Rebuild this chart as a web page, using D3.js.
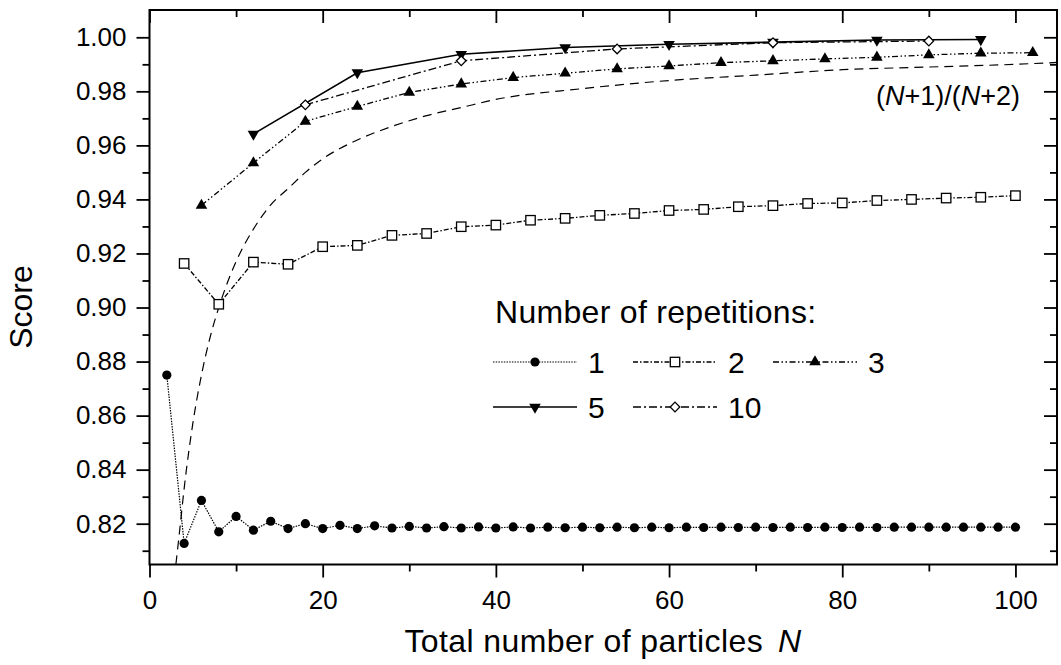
<!DOCTYPE html>
<html>
<head>
<meta charset="utf-8">
<script src="https://cdn.jsdelivr.net/npm/d3@7"></script>
<style>
  html, body { margin: 0; padding: 0; background: #fff; }
  svg { display: block; font-family: "Liberation Sans", Arial, Helvetica, sans-serif; }
</style>
</head>
<body>
<svg id="chart" width="1061" height="665"></svg>
<script>
// ---------------- data ----------------
const n1 = [2,4,6,8,10,12,14,16,18,20,22,24,26,28,30,32,34,36,38,40,42,44,46,48,50,
            52,54,56,58,60,62,64,66,68,70,72,74,76,78,80,82,84,86,88,90,92,94,96,98,100];
const rep1 = [0.8750,0.8127,0.8286,0.8170,0.8227,0.8176,0.8209,0.8182,0.8200,0.8182,
              0.8194,0.8182,0.8192,0.8184,0.8190,0.8184,0.8189,0.8184,0.8188,0.8184,
              0.8188,0.8184,0.8187,0.8185,0.8187,0.8185,0.8187,0.8185,0.8187,0.8185,
              0.8187,0.8186,0.8187,0.8186,0.8187,0.8186,0.8187,0.8186,0.8187,0.8186,
              0.8187,0.8186,0.8187,0.8187,0.8187,0.8187,0.8187,0.8187,0.8187,0.8187];

const n2 = [4,8,12,16,20,24,28,32,36,40,44,48,52,56,60,64,68,72,76,80,84,88,92,96,100];
const rep2 = [0.9163,0.9012,0.9168,0.9160,0.9225,0.9230,0.9267,0.9274,0.9299,0.9305,
              0.9323,0.9330,0.9341,0.9348,0.9359,0.9363,0.9373,0.9377,0.9385,0.9387,
              0.9396,0.9400,0.9405,0.9408,0.9414];

const n3 = [6,12,18,24,30,36,42,48,54,60,66,72,78,84,90,96,102];
const rep3 = [0.9378,0.9535,0.9689,0.9744,0.9796,0.9827,0.9851,0.9867,0.9883,0.9894,
              0.9906,0.9913,0.9920,0.9926,0.9935,0.9941,0.9943];

const n5 = [12,24,36,48,60,72,84,96];
const rep5 = [0.9642,0.9869,0.9937,0.9962,0.9974,0.9982,0.9990,0.9992];

const n10 = [18,36,54,72,90];
const rep10 = [0.9750,0.9913,0.9957,0.9980,0.9986];

// dashed reference curve
const curveN = [3.05,3.5,4,5,6,7,8,10,12,14,16,18,20,24,28,32,36,40,50,60,70,80,90,100,104.8];
const curveV = [0.805,0.818,0.833,0.857,0.875,0.889,0.900,0.917,0.929,0.938,0.944,0.950,
                0.955,0.962,0.967,0.971,0.974,0.977,0.981,0.984,0.986,0.988,0.989,0.990,0.9907];

const yMajorTicks = [0.82,0.84,0.86,0.88,0.90,0.92,0.94,0.96,0.98,1.00];
const yMinorTicks = [0.81,0.83,0.85,0.87,0.89,0.91,0.93,0.95,0.97,0.99];
const xMajorTicks = [0,20,40,60,80,100];
const xMinorTicks = [10,30,50,70,90];

const legendTitle = "Number of repetitions:";
const curveLabel = "(N+1)/(N+2)";
const xTitle = "Total number of particles";
const yTitle = "Score";

// ---------------- layout ----------------
const pL = 149.5, pR = 1057, pT = 10, pB = 564.5;
const svg = d3.select("#chart");

const x = d3.scaleLinear().domain([0, 104.8]).range([pL, pR]);
const y = d3.scaleLinear().domain([0.8049, 1.0101]).range([pB, pT]);

svg.append("defs").append("clipPath").attr("id", "clip")
  .append("rect").attr("x", pL).attr("y", pT)
  .attr("width", pR - pL).attr("height", pB - pT);

// ---------------- axes ----------------
const fmt = d3.format(".2f");
function styleAxis(g) {
  g.select(".domain").remove();
  g.selectAll(".tick line").attr("stroke", "#000").attr("stroke-width", 1.8);
  g.selectAll(".tick text").attr("fill", "#000").attr("font-size", 26)
    .attr("font-family", '"Liberation Sans", Arial, Helvetica, sans-serif');
}
// left
svg.append("g").attr("transform", `translate(${pL},0)`)
  .call(d3.axisLeft(y).tickValues(yMajorTicks).tickFormat(fmt).tickSize(13).tickPadding(10))
  .call(styleAxis);
svg.append("g").attr("transform", `translate(${pL},0)`)
  .call(d3.axisLeft(y).tickValues(yMinorTicks).tickFormat("").tickSize(7))
  .call(styleAxis);
// right (inward)
svg.append("g").attr("transform", `translate(${pR},0)`)
  .call(d3.axisLeft(y).tickValues(yMajorTicks).tickFormat("").tickSize(13))
  .call(styleAxis);
svg.append("g").attr("transform", `translate(${pR},0)`)
  .call(d3.axisLeft(y).tickValues(yMinorTicks).tickFormat("").tickSize(7))
  .call(styleAxis);
// bottom
svg.append("g").attr("transform", `translate(0,${pB})`)
  .call(d3.axisBottom(x).tickValues(xMajorTicks).tickFormat(d3.format("d")).tickSize(13).tickPadding(13))
  .call(styleAxis);
svg.append("g").attr("transform", `translate(0,${pB})`)
  .call(d3.axisBottom(x).tickValues(xMinorTicks).tickFormat("").tickSize(7))
  .call(styleAxis);
// top (inward)
svg.append("g").attr("transform", `translate(0,${pT})`)
  .call(d3.axisBottom(x).tickValues(xMajorTicks).tickFormat("").tickSize(13))
  .call(styleAxis);
svg.append("g").attr("transform", `translate(0,${pT})`)
  .call(d3.axisBottom(x).tickValues(xMinorTicks).tickFormat("").tickSize(7))
  .call(styleAxis);

// frame
svg.append("rect").attr("x", pL).attr("y", pT)
  .attr("width", pR - pL).attr("height", pB - pT)
  .attr("fill", "none").attr("stroke", "#000").attr("stroke-width", 2);

// ---------------- series ----------------
const plot = svg.append("g").attr("clip-path", "url(#clip)");
const line = d3.line().x(d => x(d[0])).y(d => y(d[1]));

const curveData = curveN.map((n, i) => [n, curveV[i]]);
plot.append("path").datum(curveData)
  .attr("d", d3.line().x(d => x(d[0])).y(d => y(d[1])).curve(d3.curveMonotoneX))
  .attr("fill", "none").attr("stroke", "#000").attr("stroke-width", 1.2)
  .attr("stroke-dasharray", "9,6");

const series = [
  { n: n1, v: rep1, label: "1", dash: "1.5,1.2", width: 1.2, sym: "circle" },
  { n: n2, v: rep2, label: "2", dash: "5,2,1.5,2", width: 1.3, sym: "square" },
  { n: n3, v: rep3, label: "3", dash: "6,2.5,1.5,2.5,1.5,2.5", width: 1.3, sym: "up" },
  { n: n5, v: rep5, label: "5", dash: null, width: 1.6, sym: "down" },
  { n: n10, v: rep10, label: "10", dash: "8,3,2,3", width: 1.3, sym: "diamond" }
];

function drawMarker(g, sym, cx, cy) {
  if (sym === "circle") {
    g.append("circle").attr("cx", cx).attr("cy", cy).attr("r", 4.6).attr("fill", "#000");
  } else if (sym === "square") {
    g.append("rect").attr("x", cx - 4.7).attr("y", cy - 4.7).attr("width", 9.4).attr("height", 9.4)
      .attr("fill", "#fff").attr("stroke", "#000").attr("stroke-width", 1.3);
  } else if (sym === "up") {
    g.append("path").attr("d", d3.symbol(d3.symbolTriangle, 58)())
      .attr("transform", `translate(${cx},${cy})`).attr("fill", "#000");
  } else if (sym === "down") {
    g.append("path").attr("d", d3.symbol(d3.symbolTriangle, 58)())
      .attr("transform", `translate(${cx},${cy}) rotate(180)`).attr("fill", "#000");
  } else if (sym === "diamond") {
    g.append("path").attr("d", d3.symbol(d3.symbolSquare, 46)())
      .attr("transform", `translate(${cx},${cy}) rotate(45)`)
      .attr("fill", "#fff").attr("stroke", "#000").attr("stroke-width", 1.3);
  }
}

series.forEach(s => {
  const data = s.n.map((n, i) => [n, s.v[i]]);
  const p = plot.append("path").datum(data).attr("d", line)
    .attr("fill", "none").attr("stroke", "#000").attr("stroke-width", s.width);
  if (s.dash) p.attr("stroke-dasharray", s.dash);
});
series.forEach(s => {
  const g = plot.append("g");
  s.n.forEach((n, i) => drawMarker(g, s.sym, x(n), y(s.v[i])));
});

// ---------------- texts ----------------
svg.append("text").attr("x", 603).attr("y", 652).attr("text-anchor", "middle")
  .attr("font-size", 32).attr("letter-spacing", 0.4).attr("fill", "#000")
  .call(t => {
    t.append("tspan").text(xTitle);
    t.append("tspan").attr("dx", 15).attr("font-style", "italic").text("N");
  });

svg.append("text").attr("transform", "translate(21,307) rotate(-90)")
  .attr("text-anchor", "middle").attr("dominant-baseline", "central")
  .attr("font-size", 32).attr("fill", "#000").text(yTitle);

// curve label  (N+1)/(N+2)
svg.append("text").attr("x", 1020).attr("y", 105).attr("text-anchor", "end")
  .attr("font-size", 27).attr("fill", "#000")
  .call(t => {
    const parts = curveLabel.split(/(N)/);
    parts.forEach(p => {
      if (!p) return;
      const ts = t.append("tspan").text(p);
      if (p === "N") ts.attr("font-style", "italic");
    });
  });

// ---------------- legend ----------------
const lg = svg.append("g");
lg.append("text").attr("x", 495).attr("y", 323).attr("font-size", 32)
  .attr("letter-spacing", 0.3).attr("fill", "#000").text(legendTitle);
const legendPos = [
  { x0: 493, row: 0 }, { x0: 633, row: 0 }, { x0: 773, row: 0 },
  { x0: 493, row: 1 }, { x0: 633, row: 1 }
];
series.forEach((s, i) => {
  const p = legendPos[i];
  const ly = 362 + p.row * 45;
  const ln = lg.append("line").attr("x1", p.x0).attr("x2", p.x0 + 84)
    .attr("y1", ly).attr("y2", ly).attr("stroke", "#000").attr("stroke-width", s.width);
  if (s.dash) ln.attr("stroke-dasharray", s.dash);
  drawMarker(lg, s.sym, p.x0 + 42, ly);
  lg.append("text").attr("x", p.x0 + 95).attr("y", ly + 11).attr("font-size", 30)
    .attr("fill", "#000").text(s.label);
});
</script>
</body>
</html>
